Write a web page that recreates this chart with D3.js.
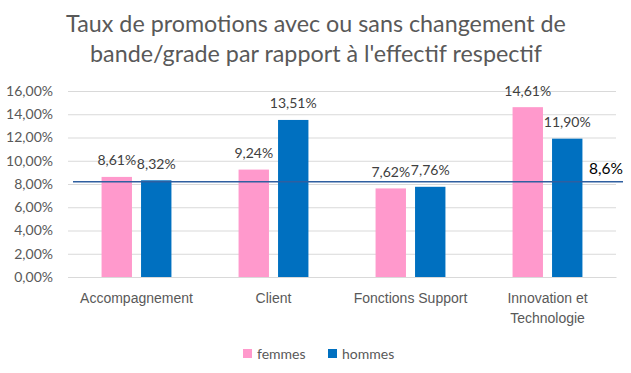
<!DOCTYPE html>
<html>
<head>
<meta charset="utf-8">
<script src="https://cdn.jsdelivr.net/npm/d3@7"></script>
<style>
  html, body { margin: 0; padding: 0; background: #fff; }
  svg { display: block; font-family: Lato, "Open Sans", sans-serif; }
</style>
</head>
<body>
<svg id="chart" width="631" height="373"></svg>
<script>
const categories = ["Accompagnement", "Client", "Fonctions Support", "Innovation et\nTechnologie"];
const seriesNames = ["femmes", "hommes"];
const femmes = [8.61, 9.24, 7.62, 14.61];
const hommes = [8.32, 13.51, 7.76, 11.90];
const yTicks = [0, 2, 4, 6, 8, 10, 12, 14, 16];
const refLineValue = 8.2;
const refLineLabel = "8,6%";
const titleLines = ["Taux de promotions avec ou sans changement de", "bande/grade par rapport à l'effectif respectif"];

const colors = { femmes: "#FF99CC", hommes: "#0070C0" };
const fmt = v => v.toFixed(2).replace(".", ",") + "%";

const svg = d3.select("#chart");
const margin = { left: 68, right: 15, top: 91, bottom: 96 };
const W = 631, H = 373;
const fs = "14px";

const x = d3.scaleBand().domain(categories).range([margin.left, W - margin.right]).paddingInner(0.49).paddingOuter(0.245);
const x1 = d3.scaleBand().domain(seriesNames).range([0, x.bandwidth()]).paddingInner(0.23);
const y = d3.scaleLinear().domain([0, 16]).range([H - margin.bottom, margin.top]);

// title
svg.append("g").selectAll("text").data(titleLines).join("text")
  .attr("x", 316).attr("y", (d, i) => 32 + i * 29.5)
  .attr("text-anchor", "middle").attr("fill", "#595959")
  .style("font-size", "23.3px").text(d => d);

// grid
const yAxis = d3.axisLeft(y).tickValues(yTicks).tickFormat(v => fmt(v)).tickSize(-(W - margin.right - margin.left)).tickPadding(15);
const gy = svg.append("g").attr("transform", `translate(${margin.left},0)`).call(yAxis);
gy.select(".domain").remove();
gy.selectAll(".tick line").attr("stroke", "#D9D9D9").attr("stroke-width", 1);
gy.selectAll(".tick text").attr("fill", "#595959").style("font-size", fs).style("font-family", "Lato, sans-serif");

// x axis
const xAxis = d3.axisBottom(x).tickSize(0).tickPadding(0).tickFormat("");
const gx = svg.append("g").attr("transform", `translate(0,${y(0)})`).call(xAxis);
gx.select(".domain").attr("stroke", "#D9D9D9");
gx.selectAll(".tick").each(function(d) {
  const lines = d.split("\n");
  d3.select(this).selectAll("text.lbl").data(lines).join("text").attr("class", "lbl")
    .attr("x", 0).attr("y", (l, i) => 26 + i * 19.5)
    .attr("text-anchor", "middle").attr("fill", "#595959")
    .style("font-size", fs).text(l => l);
});

// bars
const groups = svg.append("g").selectAll("g").data(categories).join("g")
  .attr("transform", d => `translate(${x(d)},0)`);
const rows = (c, i) => seriesNames.map(s => ({ s, v: s === "femmes" ? femmes[i] : hommes[i] }));
groups.each(function(c, i) {
  const g = d3.select(this);
  const d = rows(c, i);
  g.selectAll("rect").data(d).join("rect")
    .attr("x", r => x1(r.s)).attr("width", x1.bandwidth())
    .attr("y", r => y(r.v)).attr("height", r => y(0) - y(r.v))
    .attr("fill", r => colors[r.s]);
  g.selectAll("text").data(d).join("text")
    .attr("x", r => x1(r.s) + x1.bandwidth() / 2).attr("y", r => y(r.v) - 11.5)
    .attr("text-anchor", "middle").attr("fill", "#404040")
    .style("font-size", fs).text(r => fmt(r.v));
});

// reference line
svg.append("line").attr("x1", 73).attr("x2", 623)
  .attr("y1", y(refLineValue)).attr("y2", y(refLineValue))
  .attr("stroke", "#2F5FA0").attr("stroke-width", 1.5);
svg.append("text").attr("x", 623).attr("y", 174).attr("text-anchor", "end")
  .attr("fill", "#000").style("font-size", "15.5px").text(refLineLabel);

// legend
const leg = svg.append("g").attr("transform", "translate(243,349)");
const items = [{ n: "femmes", x: 0 }, { n: "hommes", x: 85 }];
items.forEach(it => {
  leg.append("rect").attr("x", it.x).attr("y", 0).attr("width", 9).attr("height", 9).attr("fill", colors[it.n]);
  leg.append("text").attr("x", it.x + 14).attr("y", 9.5).attr("fill", "#595959").style("font-size", fs).text(it.n);
});
</script>
</body>
</html>
